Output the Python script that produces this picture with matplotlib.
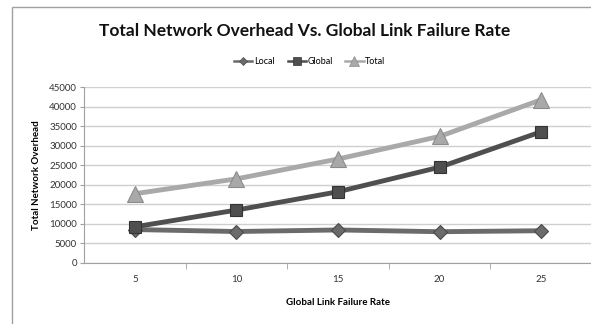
import numpy as np
import matplotlib.pyplot as plt
from matplotlib.patches import Rectangle
from matplotlib.lines import Line2D

# Datos
tasas = ["5", "10", "15", "20", "25"]
local = [8500, 8000, 8400, 7950, 8200]
global_ = [9200, 13500, 18200, 24500, 33600]
total = [17700, 21500, 26600, 32400, 41800]

series = [
    ("Local", local, "#6b6b6b", "#4a4a4a", "D", 7),
    ("Global", global_, "#4f4f4f", "#333333", "s", 9),
    ("Total", total, "#a9a9a9", "#8c8c8c", "^", 11),
]

plt.rcParams['font.family'] = ['Lato', 'DejaVu Sans']

fig = plt.figure(figsize=(5.91, 3.24), dpi=100)
fig.patch.set_facecolor("white")

# Marco del gráfico
fig.patches.append(Rectangle((12 / 591, -0.1), 1.2, 1 - 7 / 324 + 0.1,
                             transform=fig.transFigure, fill=False,
                             edgecolor="#a0a0a0", linewidth=1.0))

ax = fig.add_axes([84 / 591, 61.3 / 324, 508 / 591, 175.4 / 324])
x = np.arange(1, len(tasas) + 1)

manijas = []
for nombre, valores, color, borde, marcador, tam in series:
    ax.plot(x, valores, color=color, linewidth=3.5, marker=marcador,
            markersize=tam, markerfacecolor=color, markeredgecolor=borde,
            markeredgewidth=0.8, zorder=3)
    manijas.append(Line2D([], [], color=color, linewidth=1.8, marker=marcador,
                          markersize=tam * 0.6, markerfacecolor=color,
                          markeredgecolor=borde, markeredgewidth=0.5, label=nombre))

ax.set_xlim(0.5, len(tasas) + 0.5)
ax.set_ylim(0, 45000)
ax.set_yticks(np.arange(0, 45001, 5000))
ax.set_xticks(x)
ax.set_xticklabels(tasas)
ax.set_xticks(np.arange(1.5, len(tasas), 1), minor=True)
ax.tick_params(axis="x", which="major", length=0, pad=9, labelsize=7, colors="#333333")
ax.tick_params(axis="x", which="minor", length=4, color="#a0a0a0", direction="out")
ax.tick_params(axis="y", length=3, color="#a0a0a0", labelsize=7, pad=2, colors="#333333")
ax.tick_params(axis="y", color="#a0a0a0")

ax.grid(axis="y", color="#cfcfcf", linewidth=1.0)
ax.set_axisbelow(True)
for lado in ["top", "right"]:
    ax.spines[lado].set_visible(False)
for lado in ["left", "bottom"]:
    ax.spines[lado].set_color("#a0a0a0")

ax.set_xlabel("Global Link Failure Rate", fontsize=7, fontweight="bold", labelpad=10)
ax.set_ylabel("Total Network Overhead", fontsize=7, fontweight="bold", labelpad=6)

fig.text(305 / 591, 1 - 31 / 324, "Total Network Overhead Vs. Global Link Failure Rate",
         ha="center", va="center", fontsize=12.5, fontweight="bold", color="#111111")

fig.legend(handles=manijas, loc="center", bbox_to_anchor=(310 / 591, 1 - 62 / 324), ncol=3,
           frameon=False, fontsize=6.5, handlelength=2.0, handletextpad=0.2,
           columnspacing=1.4)

fig.savefig("out.png", dpi=100)
